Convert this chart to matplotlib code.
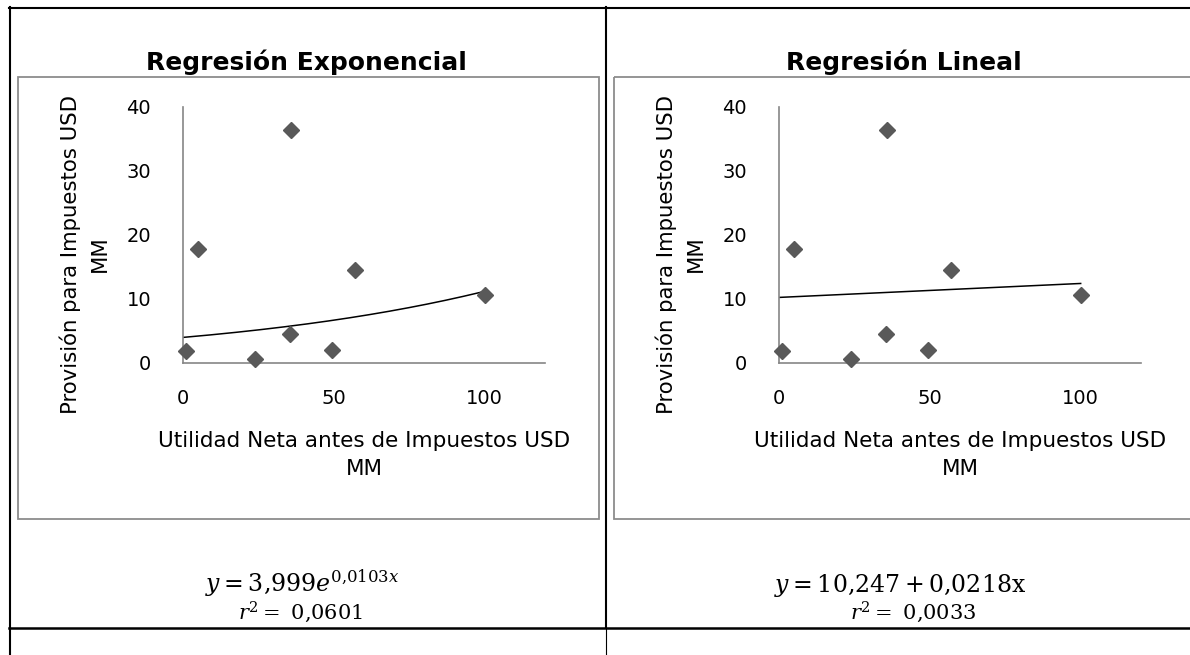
import numpy as np
import matplotlib
matplotlib.use("Agg")
from matplotlib import pyplot as plt
from matplotlib.patches import Rectangle

plt.rcParams['font.family'] = ['DejaVu Sans']
plt.rcParams['mathtext.fontset'] = 'dejavuserif'

# scatter data, same points in both charts
utilidad = [1.1, 5.0, 35.7, 23.8, 35.6, 49.5, 57.0, 100.0]
provision = [1.8, 17.8, 36.4, 0.6, 4.6, 2.0, 14.5, 10.6]

# fitted models shown under each chart
exp_a, exp_b = 3.999, 0.0103
lin_a, lin_b = 10.247, 0.0218

titles = ['Regresión Exponencial', 'Regresión Lineal']
equations = [r'$y = 3{,}999e^{0{,}0103x}$', r'$y = 10{,}247 + 0{,}0218\mathrm{x}$']
r2_labels = [r'$r^2 =\ 0{,}0601$', r'$r^2 =\ 0{,}0033$']
x_ticks = [0, 50, 100]
y_ticks = [0, 10, 20, 30, 40]

W, H = 1190, 655
fig = plt.figure(figsize=(W / 100, H / 100), dpi=100)

# background axes in pixel coords for the table lines and chart frames
bg = fig.add_axes([0, 0, 1, 1])
bg.set_xlim(0, W)
bg.set_ylim(H, 0)
bg.axis('off')


def px_axes(left, top, width, height):
    return fig.add_axes([left / W, 1 - (top + height) / H, width / W, height / H])


# table lines
bg.plot([9, W], [7.5, 7.5], color='black', lw=1.5)
bg.plot([10, 10], [7, H], color='black', lw=1.5)
bg.plot([605.5, 605.5], [7, 628], color='black', lw=1.5)
bg.plot([605.5, 605.5], [628, H], color='black', lw=0.8)
bg.plot([9, W], [628, 628], color='black', lw=1.8)

# chart frames
for x0 in (18, 614):
    bg.add_patch(Rectangle((x0, 77), 581, 442, fill=False, ec='#8c8c8c', lw=1.3))

xs = np.linspace(0, 100, 200)
fits = [exp_a * np.exp(exp_b * xs), lin_a + lin_b * xs]

offsets = [0, 596]
title_x = [306, 904]
eq_x = [302, 900]
r2_x = [300, 913]

for i in range(2):
    off = offsets[i]
    ax = px_axes(183 + off, 107, 362, 256)
    ax.set_facecolor('none')
    ax.plot(xs, fits[i], color='black', lw=1.1, zorder=2)
    ax.plot(utilidad, provision, ls='none', marker='D', ms=8,
            color='#595959', clip_on=False, zorder=3)
    ax.set_xlim(0, 120)
    ax.set_ylim(0, 40)
    ax.set_xticks(x_ticks)
    ax.set_yticks(y_ticks)
    for s in ('top', 'right'):
        ax.spines[s].set_visible(False)
    for s in ('left', 'bottom'):
        ax.spines[s].set_color('#868686')
        ax.spines[s].set_linewidth(1.2)
    ax.tick_params(axis='both', length=0, labelsize=14, colors='black')
    ax.tick_params(axis='x', pad=19)
    ax.tick_params(axis='y', pad=23)

    bg.text(title_x[i], 62, titles[i], ha='center', va='center',
            fontsize=18, fontweight='bold')
    bg.text(85 + off, 254, 'Provisión para Impuestos USD\nMM', rotation=90,
            ha='center', va='center', fontsize=15.3, linespacing=1.55,
            multialignment='center')
    bg.text(364 + off, 455, 'Utilidad Neta antes de Impuestos USD\nMM',
            ha='center', va='center', fontsize=15.5, linespacing=1.55,
            multialignment='center')
    bg.text(eq_x[i], 592, equations[i], ha='center', va='baseline', fontsize=17)
    bg.text(r2_x[i], 619, r2_labels[i], ha='center', va='baseline', fontsize=15)

fig.savefig('out.png', dpi=100)
